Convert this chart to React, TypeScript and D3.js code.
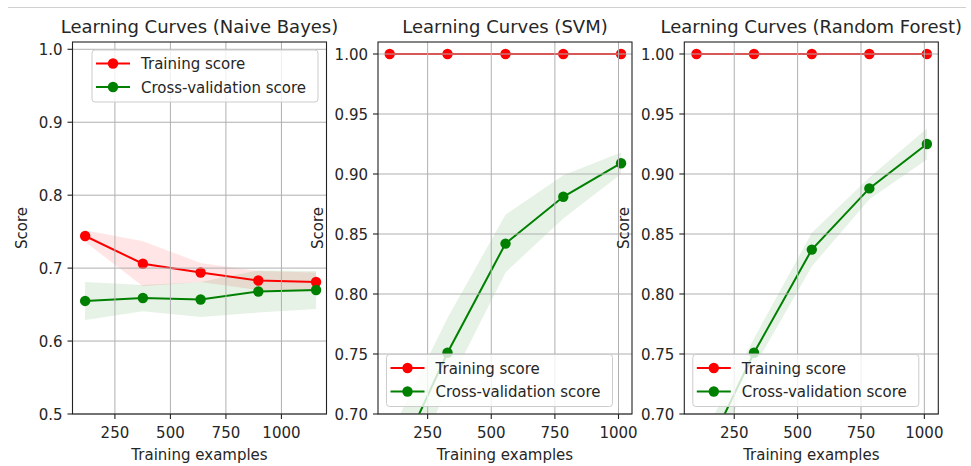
import React, { useRef, useEffect } from "react";
import * as d3 from "d3";

// values
const nbSizes = [116, 376, 636, 896, 1156];
const nbTrainMean = [0.744, 0.706, 0.694, 0.683, 0.681];
const nbTrainStd = [0.008, 0.031, 0.013, 0.013, 0.013];
const nbTestMean = [0.655, 0.659, 0.657, 0.668, 0.67];
const nbTestStd = [0.026, 0.018, 0.024, 0.029, 0.026];

const svmSizes = [101, 328, 556, 783, 1010];
const svmTrainMean = [1, 1, 1, 1, 1];
const svmTrainStd = [0, 0, 0, 0, 0];
const svmTestMean = [0.647, 0.751, 0.842, 0.881, 0.909];
const svmTestStd = [0.035, 0.029, 0.024, 0.018, 0.009];

const rfSizes = [101, 328, 556, 783, 1010];
const rfTrainMean = [1, 1, 1, 1, 1];
const rfTrainStd = [0, 0, 0, 0, 0];
const rfTestMean = [0.651, 0.751, 0.837, 0.888, 0.925];
const rfTestStd = [0.02, 0.012, 0.014, 0.009, 0.013];

const xTicks = [250, 500, 750, 1000];
const nbYTicks = [0.5, 0.6, 0.7, 0.8, 0.9, 1.0];
const svmYTicks = [0.7, 0.75, 0.8, 0.85, 0.9, 0.95, 1.0];
const legendLabels = ["Training score", "Cross-validation score"];

const FONT = "DejaVu Sans, sans-serif";
const TEXT = "#262626";

const panels = [
    {
        title: "Learning Curves (Naive Bayes)",
        sizes: nbSizes, trainMean: nbTrainMean, trainStd: nbTrainStd,
        testMean: nbTestMean, testStd: nbTestStd,
        xDomain: [59, 1203], yDomain: [0.5, 1.01], yTicks: nbYTicks, fmt: ".1f",
        left: 72.5, labelOffset: 46, legend: "upper right",
    },
    {
        title: "Learning Curves (SVM)",
        sizes: svmSizes, trainMean: svmTrainMean, trainStd: svmTrainStd,
        testMean: svmTestMean, testStd: svmTestStd,
        xDomain: [55, 1053], yDomain: [0.7, 1.01], yTicks: svmYTicks, fmt: ".2f",
        left: 378, labelOffset: 55, legend: "lower left",
    },
    {
        title: "Learning Curves (Random Forest)",
        sizes: rfSizes, trainMean: rfTrainMean, trainStd: rfTrainStd,
        testMean: rfTestMean, testStd: rfTestStd,
        xDomain: [53, 1055], yDomain: [0.7, 1.01], yTicks: svmYTicks, fmt: ".2f",
        left: 684.3, labelOffset: 55, legend: "lower left",
    },
];

const LearningCurves = () => {
    const ref = useRef<SVGSVGElement | null>(null);

    useEffect(() => {
        const top = 42;
        const bottom = 414;
        const panelWidth = 254;

        const svg = d3.select(ref.current);
        svg.selectAll("*").remove();

        // notebook output border
        svg.append("line")
            .attr("x1", 8).attr("x2", 966)
            .attr("y1", 7.5).attr("y2", 7.5)
            .attr("stroke", "#d0d0d0").attr("stroke-width", 1);

        panels.forEach((p, i) => {
            const right = p.left + panelWidth;
            const x = d3.scaleLinear().domain(p.xDomain).range([p.left, right]);
            const y = d3.scaleLinear().domain(p.yDomain).range([bottom, top]);

            const clipId = `clip-${i}`;
            svg.append("clipPath").attr("id", clipId)
                .append("rect")
                .attr("x", p.left).attr("y", top)
                .attr("width", panelWidth).attr("height", bottom - top);

            const g = svg.append("g");
            const plot = g.append("g").attr("clip-path", `url(#${clipId})`);

            const series = [
                { mean: p.trainMean, std: p.trainStd, color: "#ff0000" },
                { mean: p.testMean, std: p.testStd, color: "#008000" },
            ];

            // std bands
            series.forEach((s) => {
                const area = d3.area<number>()
                    .x((_, j) => x(p.sizes[j]))
                    .y0((d, j) => y(d - s.std[j]))
                    .y1((d, j) => y(d + s.std[j]));
                plot.append("path")
                    .attr("d", area(s.mean))
                    .attr("fill", s.color)
                    .attr("fill-opacity", 0.1);
            });

            // grid
            g.append("g").selectAll("line").data(xTicks).join("line")
                .attr("x1", (d) => x(d)).attr("x2", (d) => x(d))
                .attr("y1", top).attr("y2", bottom)
                .attr("stroke", "#b0b0b0").attr("stroke-width", 1);
            g.append("g").selectAll("line").data(p.yTicks).join("line")
                .attr("x1", p.left).attr("x2", right)
                .attr("y1", (d) => y(d)).attr("y2", (d) => y(d))
                .attr("stroke", "#b0b0b0").attr("stroke-width", 1);

            // lines and markers
            series.forEach((s) => {
                const line = d3.line<number>()
                    .x((_, j) => x(p.sizes[j]))
                    .y((d) => y(d));
                plot.append("path")
                    .attr("d", line(s.mean))
                    .attr("fill", "none")
                    .attr("stroke", s.color)
                    .attr("stroke-width", 2);
                plot.append("g").selectAll("circle").data(s.mean).join("circle")
                    .attr("cx", (_, j) => x(p.sizes[j]))
                    .attr("cy", (d) => y(d))
                    .attr("r", 5.2)
                    .attr("fill", s.color);
            });

            // frame
            g.append("rect")
                .attr("x", p.left).attr("y", top)
                .attr("width", panelWidth).attr("height", bottom - top)
                .attr("fill", "none").attr("stroke", "#222").attr("stroke-width", 1.1);

            // x ticks
            const fmtY = d3.format(p.fmt);
            const xt = g.append("g").selectAll("g").data(xTicks).join("g")
                .attr("transform", (d) => `translate(${x(d)},${bottom})`);
            xt.append("line").attr("y2", 5).attr("stroke", "#222").attr("stroke-width", 1.1);
            xt.append("text").attr("y", 23.5).attr("text-anchor", "middle")
                .attr("font-family", FONT).attr("font-size", 15).attr("fill", TEXT)
                .text((d) => String(d));

            // y ticks
            const yt = g.append("g").selectAll("g").data(p.yTicks).join("g")
                .attr("transform", (d) => `translate(${p.left},${y(d)})`);
            yt.append("line").attr("x2", -5).attr("stroke", "#222").attr("stroke-width", 1.1);
            yt.append("text").attr("x", -10).attr("y", 5.5).attr("text-anchor", "end")
                .attr("font-family", FONT).attr("font-size", 15).attr("fill", TEXT)
                .text((d) => fmtY(d));

            // labels and title
            g.append("text")
                .attr("x", (p.left + right) / 2).attr("y", 460)
                .attr("text-anchor", "middle")
                .attr("font-family", FONT).attr("font-size", 15).attr("fill", TEXT)
                .text("Training examples");
            g.append("text")
                .attr("transform", `translate(${p.left - p.labelOffset},${(top + bottom) / 2}) rotate(-90)`)
                .attr("text-anchor", "middle")
                .attr("font-family", FONT).attr("font-size", 15).attr("fill", TEXT)
                .text("Score");
            g.append("text")
                .attr("x", (p.left + right) / 2).attr("y", 33.3)
                .attr("text-anchor", "middle")
                .attr("font-family", FONT).attr("font-size", 18).attr("fill", TEXT)
                .text(p.title);

            // legend
            const lw = 226;
            const lh = 52;
            const lx = p.legend === "upper right" ? right - 8.5 - lw : p.left + 8.5;
            const ly = p.legend === "upper right" ? top + 8 : bottom - 7.5 - lh;
            const lg = g.append("g").attr("transform", `translate(${lx},${ly})`);
            lg.append("rect")
                .attr("width", lw).attr("height", lh).attr("rx", 3)
                .attr("fill", "white").attr("fill-opacity", 0.8)
                .attr("stroke", "#cccccc").attr("stroke-width", 1);
            series.forEach((s, k) => {
                const ry = 13.5 + k * 23.5;
                lg.append("line")
                    .attr("x1", 4).attr("x2", 38).attr("y1", ry).attr("y2", ry)
                    .attr("stroke", s.color).attr("stroke-width", 2);
                lg.append("circle").attr("cx", 21).attr("cy", ry).attr("r", 5.2).attr("fill", s.color);
                lg.append("text")
                    .attr("x", 49).attr("y", ry + 5.5)
                    .attr("font-family", FONT).attr("font-size", 15).attr("fill", TEXT)
                    .text(legendLabels[k]);
            });
        });
    }, []);

    return (
        <svg
            ref={ref}
            width={971}
            height={466}
            viewBox="0 0 971 466"
            style={{ position: "absolute", left: 0, top: 0, background: "white" }}
        />
    );
};

export default function App() {
    return <LearningCurves />;
}
